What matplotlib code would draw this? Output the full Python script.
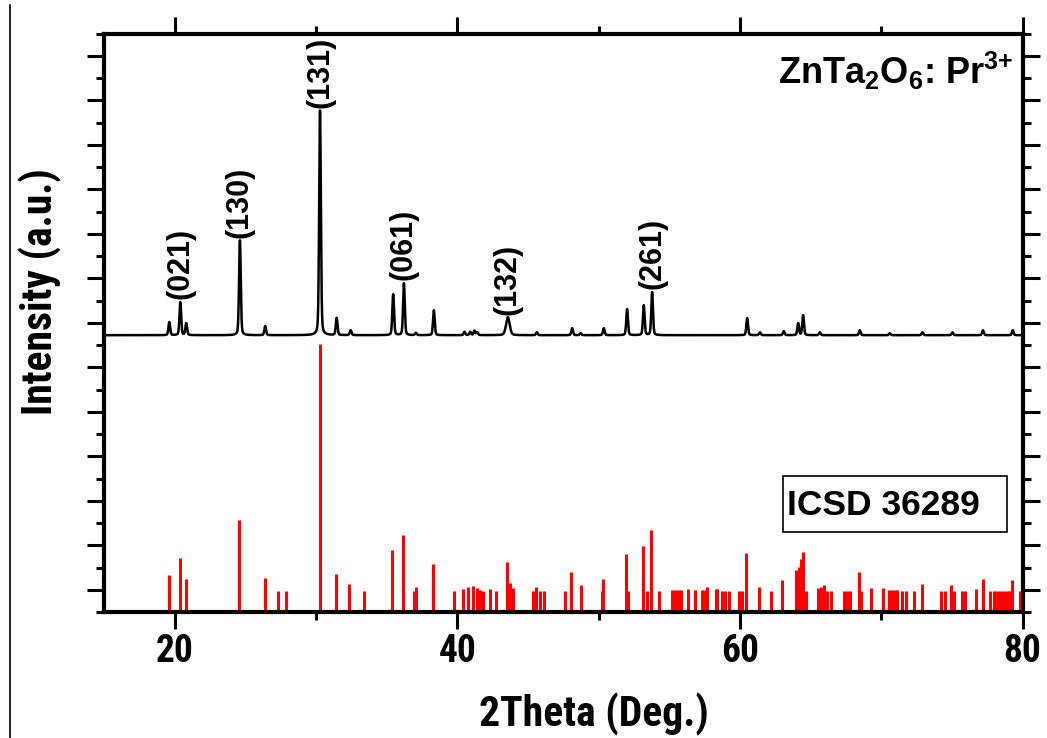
import numpy as np
import matplotlib
matplotlib.use("Agg")
import matplotlib.pyplot as plt
from matplotlib.patches import Rectangle
from matplotlib.lines import Line2D
from matplotlib.ticker import FixedLocator

plt.rcParams['mathtext.fontset'] = 'custom'
plt.rcParams['mathtext.rm'] = 'Liberation Sans:bold'
plt.rcParams['mathtext.it'] = 'Liberation Sans:bold'
plt.rcParams['mathtext.bf'] = 'Liberation Sans:bold'

# ---------------- data ----------------
# measured XRD pattern: peak positions (2theta, deg) and relative heights (%)
xrd_pos = [19.60, 20.38, 20.80, 24.60, 26.39, 30.27, 31.45, 32.44, 35.45, 36.21,
           37.06, 38.33, 40.50, 40.90, 41.20, 41.40, 43.57, 45.62, 48.12, 48.72,
           50.36, 52.01, 53.19, 53.78, 60.51, 61.41, 63.10, 64.12, 64.47, 65.65,
           68.48, 70.60, 72.92, 75.04, 77.20, 79.31]
xrd_int = [5.8, 14.7, 5.3, 42.2, 4.0, 100.0, 7.6, 2.2, 18.2, 23.1,
           1.0, 11.1, 1.5, 1.5, 2.0, 1.3, 8.0, 1.3, 3.1, 0.9,
           3.1, 11.6, 13.3, 19.1, 7.6, 1.3, 1.8, 5.3, 8.9, 1.3,
           2.2, 0.9, 1.3, 1.3, 2.2, 2.2]
xrd_fwhm = [0.14] * 16 + [0.30] + [0.14] * 19

# ICSD 36289 reference sticks
icsd_pos = [19.58, 20.36, 20.78, 24.55, 26.35, 27.27, 27.88, 30.27, 31.38, 32.34,
            33.38, 35.38, 36.14, 36.94, 37.06, 38.26, 39.75, 40.36, 40.72, 41.07,
            41.35, 41.59, 41.82, 42.30, 42.72, 43.52, 43.71, 43.95, 45.36, 45.53,
            45.84, 46.12, 47.60, 48.03, 48.72, 50.20, 50.32, 51.92, 52.04, 53.10,
            53.39, 53.67, 54.28, 55.20, 55.35, 55.50, 55.70, 55.86, 56.29, 56.83,
            57.33, 57.46, 57.68, 58.27, 58.38, 58.73, 58.92, 59.21, 59.92, 60.11,
            60.41, 61.36, 62.23, 63.01, 64.00, 64.19, 64.31, 64.43, 64.64, 65.49,
            65.77, 65.94, 66.13, 66.43, 67.37, 67.60, 67.82, 68.41, 68.55, 69.31,
            70.13, 70.55, 70.75, 70.95, 71.15, 71.50, 71.74, 72.30, 72.89, 74.26,
            74.50, 74.92, 75.13, 75.75, 75.94, 76.69, 77.17, 77.73, 77.95, 78.15,
            78.35, 78.55, 78.75, 78.95, 79.10, 79.29, 79.80]
icsd_int = [13.9, 20.1, 12.4, 34.2, 12.7, 7.8, 7.8, 100.0, 14.3, 10.6,
            7.8, 23.3, 28.6, 7.8, 9.3, 17.8, 7.8, 8.7, 9.3, 9.6,
            9.0, 8.2, 7.8, 8.7, 7.8, 18.7, 10.9, 9.0, 7.8, 9.5,
            8.0, 8.0, 7.8, 15.0, 10.0, 7.8, 12.4, 21.8, 7.8, 24.5,
            7.8, 30.7, 7.8, 8.3, 8.3, 8.3, 8.3, 8.3, 8.7, 8.3,
            8.3, 8.3, 9.3, 8.7, 8.7, 7.8, 7.8, 7.8, 7.8, 7.8,
            22.1, 9.5, 8.0, 11.8, 15.8, 16.8, 19.9, 22.4, 8.0, 9.0,
            9.5, 10.0, 7.8, 7.8, 7.8, 7.8, 7.8, 15.0, 7.8, 9.0,
            9.0, 8.3, 8.3, 8.3, 8.3, 7.8, 7.8, 7.8, 10.6, 8.0,
            8.0, 10.0, 7.8, 7.8, 7.8, 8.7, 12.4, 8.0, 8.0, 8.0,
            8.0, 8.0, 8.0, 8.0, 8.0, 11.8, 8.0]

hkl_labels = ['(021)', '(130)', '(131)', '(061)', '(132)', '(261)']
hkl_pos = [20.38, 24.60, 30.27, 36.21, 43.57, 53.78]

x_ticks = [20, 40, 60, 80]
x_minor = [30, 50, 70]

# ---------------- figure ----------------
fig = plt.figure(figsize=(10.47, 7.38), dpi=100)
ax = fig.add_axes([104.3 / 1047, 1 - 612 / 738, (1022.5 - 104.3) / 1047, (612 - 33.5) / 738])

XRD_OFFSET = 12.44
XRD_SCALE = 0.101
STICK_SCALE = 0.1203

# measured pattern built from its peaks
two_theta = np.arange(15.0, 80.0001, 0.01)
pattern = np.zeros_like(two_theta)
for p, h, w in zip(xrd_pos, xrd_int, xrd_fwhm):
    g = 0.5 * w
    pattern += h * (0.7 * np.exp(-np.log(2) * ((two_theta - p) / g) ** 2)
                    + 0.3 / (1 + ((two_theta - p) / g) ** 2))
ax.plot(two_theta, XRD_OFFSET + XRD_SCALE * pattern, color='black', lw=1.8, zorder=3)

# sticks
ax.vlines(icsd_pos, 0, np.array(icsd_int) * STICK_SCALE, color='#ff0000', lw=2.2, zorder=2)

sans = ['Liberation Sans', 'DejaVu Sans']
narrow = ['Roboto Condensed', 'Liberation Sans', 'DejaVu Sans']

# peak labels
peak_top = {p: XRD_OFFSET + XRD_SCALE * pattern[np.argmin(np.abs(two_theta - p))] for p in hkl_pos}
for lab, p in zip(hkl_labels, hkl_pos):
    ax.text(p, peak_top[p] + 0.12, lab, rotation=90, ha='center', va='bottom',
            fontsize=22, fontweight='bold', family=sans)

# sample label
ax.text(79.35, 23.75, r'ZnTa$_{2}$O$_{6}$: Pr$^{3{+}}$', ha='right', va='baseline',
        fontsize=26, fontweight='bold', family=sans)

# ICSD box
ax.add_patch(Rectangle((63.03, 3.59), 78.89 - 63.03, 6.11 - 3.59, fill=False,
                       lw=1.2, edgecolor='black', zorder=4))
ax.text(63.3, 4.36, 'ICSD 36289', ha='left', va='baseline', fontsize=25.5,
        fontweight='bold', family=sans)

# axes
ax.set_xlim(15, 80)
ax.set_ylim(0, 26)
ax.xaxis.set_major_locator(FixedLocator(x_ticks))
ax.xaxis.set_minor_locator(FixedLocator(x_minor))
ax.yaxis.set_major_locator(FixedLocator(np.arange(1, 26, 2)))
ax.yaxis.set_minor_locator(FixedLocator(np.arange(0, 27, 2)))
ax.tick_params(axis='both', which='both', direction='out', width=2.2,
               top=True, right=True, left=True, bottom=True,
               labelleft=False, labelright=False, labeltop=False)
ax.tick_params(axis='both', which='major', length=12)
ax.tick_params(axis='both', which='minor', length=6)
ax.tick_params(axis='x', which='major', pad=3)
for s in ax.spines.values():
    s.set_linewidth(3.0)

for lab in ax.get_xticklabels():
    lab.set_family(narrow)
    lab.set_fontweight('bold')
    lab.set_fontsize(27)

ax.set_xlabel('2Theta (Deg.)', fontsize=30, fontweight='bold', family=narrow)
ax.xaxis.set_label_coords(0.533, -0.139)
ax.set_ylabel('Intensity (a.u.)', fontsize=30, fontweight='bold', family=narrow)
ax.yaxis.set_label_coords(-0.046, 0.553)

# thin border line at the left edge of the image
fig.add_artist(Line2D([9.5 / 1047, 9.5 / 1047], [0, 1 - 5 / 738], transform=fig.transFigure,
                      color='black', lw=1.2))

fig.savefig('out.png', dpi=100)
